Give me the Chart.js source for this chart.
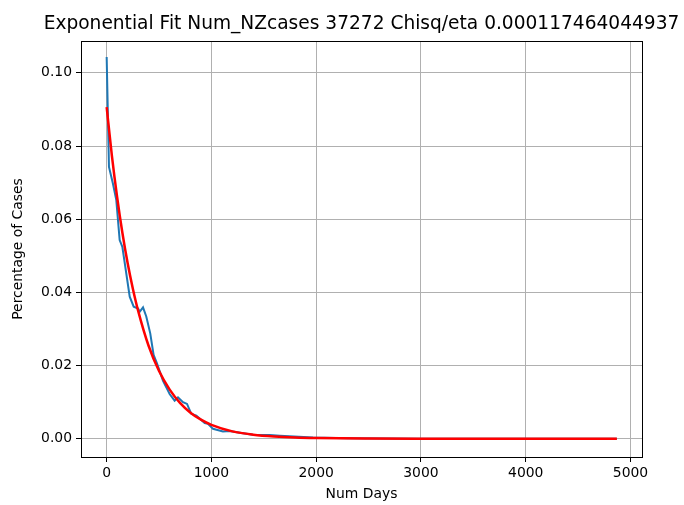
<!DOCTYPE html>
<html>
<head>
<meta charset="utf-8">
<script src="https://cdn.jsdelivr.net/npm/chart.js@4.4.0/dist/chart.umd.min.js"></script>
<style>
  html, body { margin: 0; padding: 0; background: #fff; }
  #wrap { width: 684px; height: 505px; position: relative; }
</style>
</head>
<body>
<div id="wrap"><canvas id="fitChart"></canvas></div>
<script>
const dataDays = [0, 22, 60, 92, 124, 150, 220, 258, 300, 315, 347, 378, 416, 448, 480, 538, 601, 649, 681, 729, 767, 808, 856, 936, 967, 1015, 1110, 1174, 1301, 1397, 1556, 1652, 1970, 2300, 3000, 4000, 4870];
const dataPct = [0.1043, 0.0743, 0.0697, 0.0652, 0.0543, 0.0524, 0.0388, 0.0361, 0.0356, 0.0347, 0.0359, 0.0334, 0.0288, 0.0229, 0.0206, 0.0158, 0.0122, 0.0104, 0.0113, 0.0100, 0.0095, 0.0068, 0.0063, 0.0043, 0.0041, 0.0027, 0.0020, 0.0021, 0.0015, 0.0011, 0.0010, 0.0008, 0.0003, 0.0001, 0.0000, 0.0000, 0.0000];

// exponential fit curve (red)
const fitDays = [0, 50, 100, 150, 200, 250, 300, 400, 500, 600, 700, 800, 900, 1000, 1200, 1400, 1600, 1800, 2000, 2500, 3000, 4000, 4870];
const fitPct = [0.0906, 0.0773, 0.0660, 0.0563, 0.0480, 0.0410, 0.0350, 0.0254, 0.0185, 0.0135, 0.0098, 0.0071, 0.0052, 0.0038, 0.0020, 0.0011, 0.0006, 0.0003, 0.00016, 0.00003, 0, 0, 0];

const xTicks = [0, 1000, 2000, 3000, 4000, 5000];
const yTicks = [0, 0.02, 0.04, 0.06, 0.08, 0.10];

const titleText = 'Exponential Fit Num_NZcases 37272 Chisq/eta 0.000117464044937';

const FONT = 'DejaVu Sans';
Chart.defaults.font.family = FONT;
Chart.defaults.color = '#000';

// title centred over the plot area + full box around the axes
const framePlugin = {
    id: 'frame',
    afterDraw(chart) {
        const a = chart.chartArea;
        const c = chart.ctx;
        c.save();
        c.strokeStyle = '#000';
        c.lineWidth = 1;
        c.strokeRect(Math.round(a.left) + 0.5, Math.round(a.top) + 0.5,
            Math.round(a.right - a.left), Math.round(a.bottom - a.top));
        c.fillStyle = '#000';
        c.font = '18.6px "' + FONT + '"';
        c.textAlign = 'center';
        c.textBaseline = 'alphabetic';
        c.fillText(titleText, (a.left + a.right) / 2, 29);
        c.restore();
    }
};

const ctx = document.getElementById('fitChart').getContext('2d');
const fitChart = new Chart(ctx, {
    type: 'line',
    data: {
        datasets: [{
            label: 'data',
            data: dataDays.map((d, i) => ({ x: d, y: dataPct[i] })),
            borderColor: '#1f77b4',
            borderWidth: 2,
            pointRadius: 0,
            tension: 0,
            order: 1
        }, {
            label: 'fit',
            data: fitDays.map((d, i) => ({ x: d, y: fitPct[i] })),
            borderColor: '#ff0000',
            borderWidth: 2.5,
            pointRadius: 0,
            cubicInterpolationMode: 'monotone',
            order: 0
        }]
    },
    options: {
        responsive: true,
        maintainAspectRatio: false,
        animation: false,
        layout: { padding: { top: 41, right: 42, left: 0, bottom: 0 } },
        plugins: {
            legend: { display: false },
            tooltip: { enabled: false }
        },
        scales: {
            x: {
                type: 'linear',
                min: -245,
                max: 5110,
                afterBuildTicks: s => { s.ticks = xTicks.map(v => ({ value: v })); },
                afterFit: s => { s.height = 48; },
                ticks: { font: { size: 13.9 }, padding: 3, maxRotation: 0, callback: v => String(v) },
                grid: { color: '#b0b0b0', lineWidth: 1, tickColor: '#000', tickLength: 5 },
                border: { display: true, color: '#000' },
                title: { display: true, text: 'Num Days', font: { size: 13.9 }, padding: { top: 0, bottom: 2 } }
            },
            y: {
                min: -0.0050,
                max: 0.1087,
                afterBuildTicks: s => { s.ticks = yTicks.map(v => ({ value: v })); },
                afterFit: s => { s.width = 81; },
                ticks: { font: { size: 13.9 }, padding: 4, callback: v => v.toFixed(2) },
                grid: { color: '#b0b0b0', lineWidth: 1, tickColor: '#000', tickLength: 5 },
                border: { display: true, color: '#000' },
                title: { display: true, text: 'Percentage of Cases', font: { size: 13.9 }, padding: { top: 10, bottom: 0 } }
            }
        }
    },
    plugins: [framePlugin]
});
</script>
</body>
</html>
